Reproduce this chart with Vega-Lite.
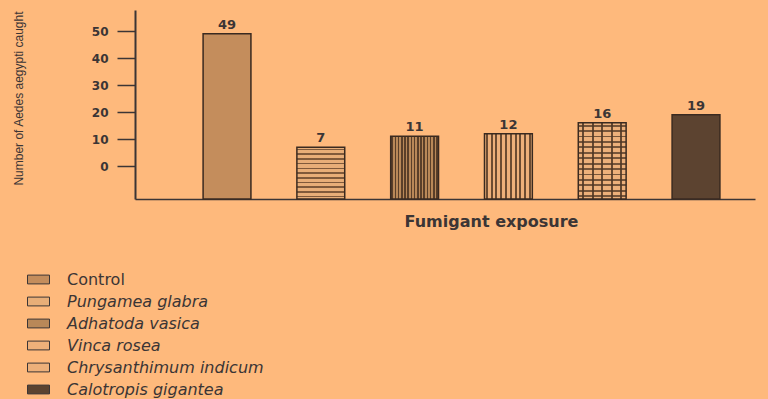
{
  "$schema": "https://vega.github.io/schema/vega-lite/v6.json",
  "width": 620,
  "height": 189,
  "autosize": {"type": "none"},
  "padding": {"left": 135, "top": 10, "right": 13, "bottom": 200},
  "background": "#FEB97C",
  "config": {"view": {"stroke": null}},
  "data": {
    "values": [
      {"treatment": "Control", "count": 49},
      {"treatment": "Pungamea glabra", "count": 7},
      {"treatment": "Adhatoda vasica", "count": 11},
      {"treatment": "Vinca rosea", "count": 12},
      {"treatment": "Chrysanthimum indicum", "count": 16},
      {"treatment": "Calotropis gigantea", "count": 19}
    ]
  },
  "encoding": {
    "x": {
      "field": "treatment",
      "type": "nominal",
      "sort": null,
      "scale": {"paddingInner": 0.49, "paddingOuter": 0.55, "align": 0.66},
      "axis": {
        "title": "Fumigant exposure",
        "labels": false,
        "ticks": false,
        "domainColor": "#3b3535",
        "domainWidth": 1.5,
        "titleFont": "DejaVu Sans",
        "titleFontSize": 16,
        "titleFontWeight": "bold",
        "titleColor": "#3b3535",
        "titleX": 356,
        "titleY": 22,
        "titleBaseline": "middle",
        "titleAlign": "center"
      }
    },
    "y": {
      "field": "count",
      "type": "quantitative",
      "scale": {"domain": [-12.2, 57.8], "nice": false, "zero": false},
      "axis": {
        "title": "Number of Aedes aegypti caught",
        "values": [0, 10, 20, 30, 40, 50],
        "grid": false,
        "tickSize": 18,
        "tickColor": "#3b3535",
        "tickWidth": 1.5,
        "domainColor": "#3b3535",
        "domainWidth": 2,
        "labelFont": "DejaVu Sans",
        "labelFontSize": 12,
        "labelFontWeight": "bold",
        "labelColor": "#3b3535",
        "labelPadding": 9,
        "titleFont": "Liberation Sans",
        "titleFontSize": 12,
        "titleFontWeight": "normal",
        "titleColor": "#3b3535",
        "titleAngle": 270,
        "titleX": -117,
        "titleY": 88,
        "titleBaseline": "middle",
        "titleAlign": "center"
      }
    }
  },
  "layer": [
    {
      "mark": {"type": "bar"},
      "encoding": {
        "y2": {"datum": -12.2},
        "color": {
          "field": "treatment",
          "type": "nominal",
          "scale": {
            "domain": ["Control", "Pungamea glabra", "Adhatoda vasica", "Vinca rosea", "Chrysanthimum indicum", "Calotropis gigantea"],
            "range": ["#C48D5C", "#E8AE78", "#B98858", "#EEB07A", "#EDB07A", "#5C4330"]
          },
          "legend": {
            "title": null,
            "orient": "none",
            "legendX": -108,
            "legendY": 258,
            "direction": "vertical",
            "symbolType": "M-1,-0.4H1V0.4H-1Z",
            "symbolSize": 484,
            "symbolStrokeColor": "#3b3535",
            "symbolStrokeWidth": 1,
            "symbolOpacity": 1,
            "labelFont": "DejaVu Sans",
            "labelFontSize": 16,
            "labelColor": "#3b3535",
            "labelOffset": 17,
            "labelLimit": 400,
            "rowPadding": 2,
            "padding": 0,
            "encode": {
              "labels": {
                "update": {
                  "fontStyle": {"signal": "datum.value === 'Control' ? 'normal' : 'italic'"}
                }
              }
            }
          }
        }
      }
    },
    {
      "transform": [{"filter": "datum.treatment === 'Pungamea glabra'"}],
      "mark": {
        "type": "bar",
        "fill": {
          "gradient": "linear", "x1": 0, "y1": 0, "x2": 0, "y2": 1,
          "stops": [
            {"offset": 0, "color": "rgba(110,75,48,0)"},
            {"offset": 0.0296, "color": "rgba(110,75,48,0)"}, {"offset": 0.0296, "color": "rgba(110,75,48,0.85)"}, {"offset": 0.0614, "color": "rgba(110,75,48,0.85)"}, {"offset": 0.0614, "color": "rgba(110,75,48,0)"},
            {"offset": 0.1205, "color": "rgba(110,75,48,0)"}, {"offset": 0.1205, "color": "rgba(110,75,48,0.85)"}, {"offset": 0.1523, "color": "rgba(110,75,48,0.85)"}, {"offset": 0.1523, "color": "rgba(110,75,48,0)"},
            {"offset": 0.2114, "color": "rgba(110,75,48,0)"}, {"offset": 0.2114, "color": "rgba(110,75,48,0.85)"}, {"offset": 0.2432, "color": "rgba(110,75,48,0.85)"}, {"offset": 0.2432, "color": "rgba(110,75,48,0)"},
            {"offset": 0.3023, "color": "rgba(110,75,48,0)"}, {"offset": 0.3023, "color": "rgba(110,75,48,0.85)"}, {"offset": 0.3341, "color": "rgba(110,75,48,0.85)"}, {"offset": 0.3341, "color": "rgba(110,75,48,0)"},
            {"offset": 0.3932, "color": "rgba(110,75,48,0)"}, {"offset": 0.3932, "color": "rgba(110,75,48,0.85)"}, {"offset": 0.4250, "color": "rgba(110,75,48,0.85)"}, {"offset": 0.4250, "color": "rgba(110,75,48,0)"},
            {"offset": 0.4841, "color": "rgba(110,75,48,0)"}, {"offset": 0.4841, "color": "rgba(110,75,48,0.85)"}, {"offset": 0.5159, "color": "rgba(110,75,48,0.85)"}, {"offset": 0.5159, "color": "rgba(110,75,48,0)"},
            {"offset": 0.5750, "color": "rgba(110,75,48,0)"}, {"offset": 0.5750, "color": "rgba(110,75,48,0.85)"}, {"offset": 0.6068, "color": "rgba(110,75,48,0.85)"}, {"offset": 0.6068, "color": "rgba(110,75,48,0)"},
            {"offset": 0.6659, "color": "rgba(110,75,48,0)"}, {"offset": 0.6659, "color": "rgba(110,75,48,0.85)"}, {"offset": 0.6977, "color": "rgba(110,75,48,0.85)"}, {"offset": 0.6977, "color": "rgba(110,75,48,0)"},
            {"offset": 0.7568, "color": "rgba(110,75,48,0)"}, {"offset": 0.7568, "color": "rgba(110,75,48,0.85)"}, {"offset": 0.7886, "color": "rgba(110,75,48,0.85)"}, {"offset": 0.7886, "color": "rgba(110,75,48,0)"},
            {"offset": 0.8477, "color": "rgba(110,75,48,0)"}, {"offset": 0.8477, "color": "rgba(110,75,48,0.85)"}, {"offset": 0.8795, "color": "rgba(110,75,48,0.85)"}, {"offset": 0.8795, "color": "rgba(110,75,48,0)"},
            {"offset": 0.9386, "color": "rgba(110,75,48,0)"}, {"offset": 0.9386, "color": "rgba(110,75,48,0.85)"}, {"offset": 0.9704, "color": "rgba(110,75,48,0.85)"}, {"offset": 0.9704, "color": "rgba(110,75,48,0)"},
            {"offset": 1, "color": "rgba(110,75,48,0)"}
          ]
        }
      },
      "encoding": {"y2": {"datum": -12.2}}
    },
    {
      "transform": [{"filter": "datum.treatment === 'Adhatoda vasica'"}],
      "mark": {
        "type": "bar",
        "fill": {
          "gradient": "linear", "x1": 0, "y1": 0, "x2": 1, "y2": 0,
          "stops": [
            {"offset": 0, "color": "rgba(80,55,36,0)"},
            {"offset": 0.0167, "color": "rgba(80,55,36,0)"}, {"offset": 0.0167, "color": "rgba(80,55,36,0.9)"}, {"offset": 0.05, "color": "rgba(80,55,36,0.9)"}, {"offset": 0.05, "color": "rgba(80,55,36,0)"},
            {"offset": 0.0833, "color": "rgba(80,55,36,0)"}, {"offset": 0.0833, "color": "rgba(80,55,36,0.9)"}, {"offset": 0.1167, "color": "rgba(80,55,36,0.9)"}, {"offset": 0.1167, "color": "rgba(80,55,36,0)"},
            {"offset": 0.15, "color": "rgba(80,55,36,0)"}, {"offset": 0.15, "color": "rgba(80,55,36,0.9)"}, {"offset": 0.1833, "color": "rgba(80,55,36,0.9)"}, {"offset": 0.1833, "color": "rgba(80,55,36,0)"},
            {"offset": 0.2167, "color": "rgba(80,55,36,0)"}, {"offset": 0.2167, "color": "rgba(80,55,36,0.9)"}, {"offset": 0.25, "color": "rgba(80,55,36,0.9)"}, {"offset": 0.25, "color": "rgba(80,55,36,0)"},
            {"offset": 0.2833, "color": "rgba(80,55,36,0)"}, {"offset": 0.2833, "color": "rgba(80,55,36,0.9)"}, {"offset": 0.3167, "color": "rgba(80,55,36,0.9)"}, {"offset": 0.3167, "color": "rgba(80,55,36,0)"},
            {"offset": 0.35, "color": "rgba(80,55,36,0)"}, {"offset": 0.35, "color": "rgba(80,55,36,0.9)"}, {"offset": 0.3833, "color": "rgba(80,55,36,0.9)"}, {"offset": 0.3833, "color": "rgba(80,55,36,0)"},
            {"offset": 0.4167, "color": "rgba(80,55,36,0)"}, {"offset": 0.4167, "color": "rgba(80,55,36,0.9)"}, {"offset": 0.45, "color": "rgba(80,55,36,0.9)"}, {"offset": 0.45, "color": "rgba(80,55,36,0)"},
            {"offset": 0.4833, "color": "rgba(80,55,36,0)"}, {"offset": 0.4833, "color": "rgba(80,55,36,0.9)"}, {"offset": 0.5167, "color": "rgba(80,55,36,0.9)"}, {"offset": 0.5167, "color": "rgba(80,55,36,0)"},
            {"offset": 0.55, "color": "rgba(80,55,36,0)"}, {"offset": 0.55, "color": "rgba(80,55,36,0.9)"}, {"offset": 0.5833, "color": "rgba(80,55,36,0.9)"}, {"offset": 0.5833, "color": "rgba(80,55,36,0)"},
            {"offset": 0.6167, "color": "rgba(80,55,36,0)"}, {"offset": 0.6167, "color": "rgba(80,55,36,0.9)"}, {"offset": 0.65, "color": "rgba(80,55,36,0.9)"}, {"offset": 0.65, "color": "rgba(80,55,36,0)"},
            {"offset": 0.6833, "color": "rgba(80,55,36,0)"}, {"offset": 0.6833, "color": "rgba(80,55,36,0.9)"}, {"offset": 0.7167, "color": "rgba(80,55,36,0.9)"}, {"offset": 0.7167, "color": "rgba(80,55,36,0)"},
            {"offset": 0.75, "color": "rgba(80,55,36,0)"}, {"offset": 0.75, "color": "rgba(80,55,36,0.9)"}, {"offset": 0.7833, "color": "rgba(80,55,36,0.9)"}, {"offset": 0.7833, "color": "rgba(80,55,36,0)"},
            {"offset": 0.8167, "color": "rgba(80,55,36,0)"}, {"offset": 0.8167, "color": "rgba(80,55,36,0.9)"}, {"offset": 0.85, "color": "rgba(80,55,36,0.9)"}, {"offset": 0.85, "color": "rgba(80,55,36,0)"},
            {"offset": 0.8833, "color": "rgba(80,55,36,0)"}, {"offset": 0.8833, "color": "rgba(80,55,36,0.9)"}, {"offset": 0.9167, "color": "rgba(80,55,36,0.9)"}, {"offset": 0.9167, "color": "rgba(80,55,36,0)"},
            {"offset": 0.95, "color": "rgba(80,55,36,0)"}, {"offset": 0.95, "color": "rgba(80,55,36,0.9)"}, {"offset": 0.9833, "color": "rgba(80,55,36,0.9)"}, {"offset": 0.9833, "color": "rgba(80,55,36,0)"},
            {"offset": 1, "color": "rgba(80,55,36,0)"}
          ]
        }
      },
      "encoding": {"y2": {"datum": -12.2}}
    },
    {
      "transform": [{"filter": "datum.treatment === 'Vinca rosea'"}],
      "mark": {
        "type": "bar",
        "fill": {
          "gradient": "linear", "x1": 0, "y1": 0, "x2": 1, "y2": 0,
          "stops": [
            {"offset": 0, "color": "rgba(95,65,42,0)"},
            {"offset": 0.03, "color": "rgba(95,65,42,0)"}, {"offset": 0.03, "color": "rgba(95,65,42,0.9)"}, {"offset": 0.07, "color": "rgba(95,65,42,0.9)"}, {"offset": 0.07, "color": "rgba(95,65,42,0)"},
            {"offset": 0.13, "color": "rgba(95,65,42,0)"}, {"offset": 0.13, "color": "rgba(95,65,42,0.9)"}, {"offset": 0.17, "color": "rgba(95,65,42,0.9)"}, {"offset": 0.17, "color": "rgba(95,65,42,0)"},
            {"offset": 0.23, "color": "rgba(95,65,42,0)"}, {"offset": 0.23, "color": "rgba(95,65,42,0.9)"}, {"offset": 0.27, "color": "rgba(95,65,42,0.9)"}, {"offset": 0.27, "color": "rgba(95,65,42,0)"},
            {"offset": 0.33, "color": "rgba(95,65,42,0)"}, {"offset": 0.33, "color": "rgba(95,65,42,0.9)"}, {"offset": 0.37, "color": "rgba(95,65,42,0.9)"}, {"offset": 0.37, "color": "rgba(95,65,42,0)"},
            {"offset": 0.43, "color": "rgba(95,65,42,0)"}, {"offset": 0.43, "color": "rgba(95,65,42,0.9)"}, {"offset": 0.47, "color": "rgba(95,65,42,0.9)"}, {"offset": 0.47, "color": "rgba(95,65,42,0)"},
            {"offset": 0.53, "color": "rgba(95,65,42,0)"}, {"offset": 0.53, "color": "rgba(95,65,42,0.9)"}, {"offset": 0.57, "color": "rgba(95,65,42,0.9)"}, {"offset": 0.57, "color": "rgba(95,65,42,0)"},
            {"offset": 0.63, "color": "rgba(95,65,42,0)"}, {"offset": 0.63, "color": "rgba(95,65,42,0.9)"}, {"offset": 0.67, "color": "rgba(95,65,42,0.9)"}, {"offset": 0.67, "color": "rgba(95,65,42,0)"},
            {"offset": 0.73, "color": "rgba(95,65,42,0)"}, {"offset": 0.73, "color": "rgba(95,65,42,0.9)"}, {"offset": 0.77, "color": "rgba(95,65,42,0.9)"}, {"offset": 0.77, "color": "rgba(95,65,42,0)"},
            {"offset": 0.83, "color": "rgba(95,65,42,0)"}, {"offset": 0.83, "color": "rgba(95,65,42,0.9)"}, {"offset": 0.87, "color": "rgba(95,65,42,0.9)"}, {"offset": 0.87, "color": "rgba(95,65,42,0)"},
            {"offset": 0.93, "color": "rgba(95,65,42,0)"}, {"offset": 0.93, "color": "rgba(95,65,42,0.9)"}, {"offset": 0.97, "color": "rgba(95,65,42,0.9)"}, {"offset": 0.97, "color": "rgba(95,65,42,0)"},
            {"offset": 1, "color": "rgba(95,65,42,0)"}
          ]
        }
      },
      "encoding": {"y2": {"datum": -12.2}}
    },
    {
      "transform": [{"filter": "datum.treatment === 'Chrysanthimum indicum'"}],
      "mark": {
        "type": "bar",
        "fill": {
          "gradient": "linear", "x1": 0, "y1": 0, "x2": 1, "y2": 0,
          "stops": [
            {"offset": 0, "color": "rgba(80,55,36,0)"},
            {"offset": 0.08, "color": "rgba(80,55,36,0)"}, {"offset": 0.08, "color": "rgba(80,55,36,0.85)"}, {"offset": 0.12, "color": "rgba(80,55,36,0.85)"}, {"offset": 0.12, "color": "rgba(80,55,36,0)"},
            {"offset": 0.28, "color": "rgba(80,55,36,0)"}, {"offset": 0.28, "color": "rgba(80,55,36,0.85)"}, {"offset": 0.32, "color": "rgba(80,55,36,0.85)"}, {"offset": 0.32, "color": "rgba(80,55,36,0)"},
            {"offset": 0.48, "color": "rgba(80,55,36,0)"}, {"offset": 0.48, "color": "rgba(80,55,36,0.85)"}, {"offset": 0.52, "color": "rgba(80,55,36,0.85)"}, {"offset": 0.52, "color": "rgba(80,55,36,0)"},
            {"offset": 0.68, "color": "rgba(80,55,36,0)"}, {"offset": 0.68, "color": "rgba(80,55,36,0.85)"}, {"offset": 0.72, "color": "rgba(80,55,36,0.85)"}, {"offset": 0.72, "color": "rgba(80,55,36,0)"},
            {"offset": 0.88, "color": "rgba(80,55,36,0)"}, {"offset": 0.88, "color": "rgba(80,55,36,0.85)"}, {"offset": 0.92, "color": "rgba(80,55,36,0.85)"}, {"offset": 0.92, "color": "rgba(80,55,36,0)"},
            {"offset": 1, "color": "rgba(80,55,36,0)"}
          ]
        }
      },
      "encoding": {"y2": {"datum": -12.2}}
    },
    {
      "transform": [{"filter": "datum.treatment === 'Chrysanthimum indicum'"}],
      "mark": {
        "type": "bar",
        "fill": {
          "gradient": "linear", "x1": 0, "y1": 0, "x2": 0, "y2": 1,
          "stops": [
            {"offset": 0, "color": "rgba(80,55,36,0)"},
            {"offset": 0.0232, "color": "rgba(80,55,36,0)"}, {"offset": 0.0232, "color": "rgba(80,55,36,0.75)"}, {"offset": 0.0482, "color": "rgba(80,55,36,0.75)"}, {"offset": 0.0482, "color": "rgba(80,55,36,0)"},
            {"offset": 0.0946, "color": "rgba(80,55,36,0)"}, {"offset": 0.0946, "color": "rgba(80,55,36,0.75)"}, {"offset": 0.1196, "color": "rgba(80,55,36,0.75)"}, {"offset": 0.1196, "color": "rgba(80,55,36,0)"},
            {"offset": 0.1661, "color": "rgba(80,55,36,0)"}, {"offset": 0.1661, "color": "rgba(80,55,36,0.75)"}, {"offset": 0.1911, "color": "rgba(80,55,36,0.75)"}, {"offset": 0.1911, "color": "rgba(80,55,36,0)"},
            {"offset": 0.2375, "color": "rgba(80,55,36,0)"}, {"offset": 0.2375, "color": "rgba(80,55,36,0.75)"}, {"offset": 0.2625, "color": "rgba(80,55,36,0.75)"}, {"offset": 0.2625, "color": "rgba(80,55,36,0)"},
            {"offset": 0.3089, "color": "rgba(80,55,36,0)"}, {"offset": 0.3089, "color": "rgba(80,55,36,0.75)"}, {"offset": 0.3339, "color": "rgba(80,55,36,0.75)"}, {"offset": 0.3339, "color": "rgba(80,55,36,0)"},
            {"offset": 0.3804, "color": "rgba(80,55,36,0)"}, {"offset": 0.3804, "color": "rgba(80,55,36,0.75)"}, {"offset": 0.4054, "color": "rgba(80,55,36,0.75)"}, {"offset": 0.4054, "color": "rgba(80,55,36,0)"},
            {"offset": 0.4518, "color": "rgba(80,55,36,0)"}, {"offset": 0.4518, "color": "rgba(80,55,36,0.75)"}, {"offset": 0.4768, "color": "rgba(80,55,36,0.75)"}, {"offset": 0.4768, "color": "rgba(80,55,36,0)"},
            {"offset": 0.5232, "color": "rgba(80,55,36,0)"}, {"offset": 0.5232, "color": "rgba(80,55,36,0.75)"}, {"offset": 0.5482, "color": "rgba(80,55,36,0.75)"}, {"offset": 0.5482, "color": "rgba(80,55,36,0)"},
            {"offset": 0.5946, "color": "rgba(80,55,36,0)"}, {"offset": 0.5946, "color": "rgba(80,55,36,0.75)"}, {"offset": 0.6196, "color": "rgba(80,55,36,0.75)"}, {"offset": 0.6196, "color": "rgba(80,55,36,0)"},
            {"offset": 0.6661, "color": "rgba(80,55,36,0)"}, {"offset": 0.6661, "color": "rgba(80,55,36,0.75)"}, {"offset": 0.6911, "color": "rgba(80,55,36,0.75)"}, {"offset": 0.6911, "color": "rgba(80,55,36,0)"},
            {"offset": 0.7375, "color": "rgba(80,55,36,0)"}, {"offset": 0.7375, "color": "rgba(80,55,36,0.75)"}, {"offset": 0.7625, "color": "rgba(80,55,36,0.75)"}, {"offset": 0.7625, "color": "rgba(80,55,36,0)"},
            {"offset": 0.8089, "color": "rgba(80,55,36,0)"}, {"offset": 0.8089, "color": "rgba(80,55,36,0.75)"}, {"offset": 0.8339, "color": "rgba(80,55,36,0.75)"}, {"offset": 0.8339, "color": "rgba(80,55,36,0)"},
            {"offset": 0.8804, "color": "rgba(80,55,36,0)"}, {"offset": 0.8804, "color": "rgba(80,55,36,0.75)"}, {"offset": 0.9054, "color": "rgba(80,55,36,0.75)"}, {"offset": 0.9054, "color": "rgba(80,55,36,0)"},
            {"offset": 0.9518, "color": "rgba(80,55,36,0)"}, {"offset": 0.9518, "color": "rgba(80,55,36,0.75)"}, {"offset": 0.9768, "color": "rgba(80,55,36,0.75)"}, {"offset": 0.9768, "color": "rgba(80,55,36,0)"},
            {"offset": 1, "color": "rgba(80,55,36,0)"}
          ]
        }
      },
      "encoding": {"y2": {"datum": -12.2}}
    },
    {
      "mark": {"type": "bar", "fillOpacity": 0, "stroke": "#3a2a20", "strokeWidth": 1.5},
      "encoding": {"y2": {"datum": -12.2}}
    },
    {
      "mark": {
        "type": "text",
        "baseline": "bottom",
        "dy": -2,
        "font": "DejaVu Sans",
        "fontWeight": "bold",
        "fontSize": 13,
        "color": "#3b3535"
      },
      "encoding": {"text": {"field": "count", "type": "quantitative"}}
    }
  ]
}
